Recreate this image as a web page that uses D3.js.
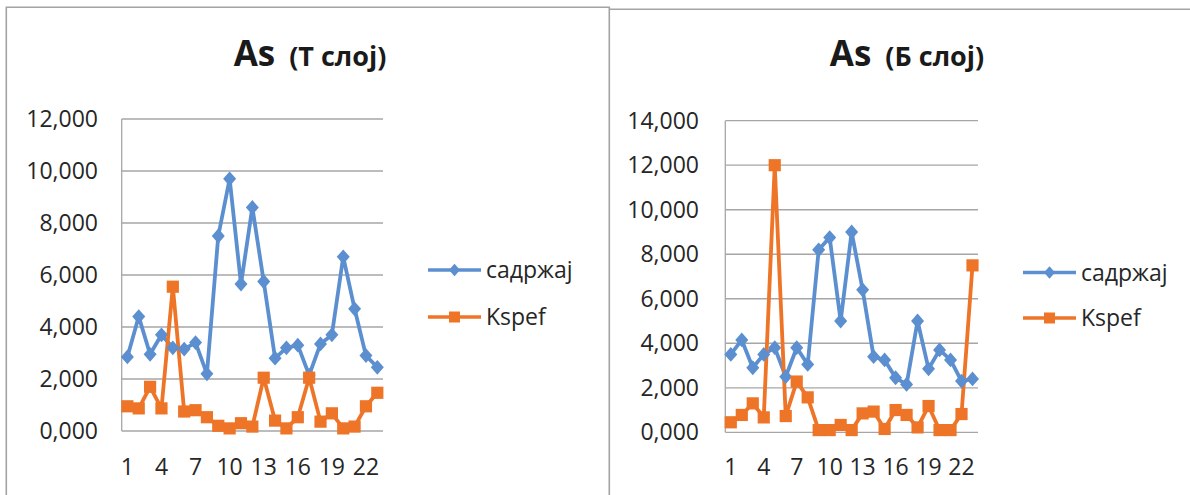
<!DOCTYPE html>
<html>
<head>
<meta charset="utf-8">
<script src="https://cdn.jsdelivr.net/npm/d3@7"></script>
<style>
  html, body { margin: 0; padding: 0; background: #fff; }
  svg { display: block; }
  text { font-family: "Open Sans", "Noto Sans", sans-serif; fill: #262626; }
</style>
</head>
<body>
<svg id="chart" width="1190" height="495"></svg>
<script>
// Sample numbers 1..23
const categories = d3.range(1, 24);
const tickCategories = [1, 4, 7, 10, 13, 16, 19, 22];
const seriesNames = ["садржај", "Kspef"];

// As, T layer
const topContent = [2.85, 4.4, 2.95, 3.7, 3.2, 3.15, 3.4, 2.2, 7.5, 9.7, 5.65, 8.6, 5.75, 2.8, 3.2, 3.3, 2.15, 3.35, 3.7, 6.7, 4.7, 2.9, 2.45];
const topKspef   = [0.95, 0.87, 1.7, 0.87, 5.55, 0.75, 0.8, 0.53, 0.2, 0.1, 0.3, 0.17, 2.05, 0.4, 0.1, 0.53, 2.05, 0.36, 0.68, 0.1, 0.17, 0.95, 1.47];
const topTicks   = [0, 2, 4, 6, 8, 10, 12];

// As, Б layer
const bottomContent = [3.5, 4.15, 2.9, 3.5, 3.8, 2.5, 3.8, 3.05, 8.2, 8.75, 5.0, 9.0, 6.4, 3.4, 3.25, 2.45, 2.15, 5.0, 2.85, 3.7, 3.25, 2.3, 2.4];
const bottomKspef   = [0.45, 0.78, 1.3, 0.67, 12.0, 0.73, 2.28, 1.57, 0.1, 0.1, 0.33, 0.1, 0.85, 0.93, 0.15, 1.0, 0.78, 0.22, 1.18, 0.1, 0.1, 0.82, 7.5];
const bottomTicks   = [0, 2, 4, 6, 8, 10, 12, 14];

const BLUE = "#5b8fd0";
const ORANGE = "#ee7527";
const GRID = "#a6a6a6";

const svg = d3.select("#chart");
// labels with comma decimal separator: 12,000
const yLabel = v => d3.format(".3f")(v).replace(".", ",");

// marker shapes centred on the point
const markerPath = {
  diamond: (w, h) => `M0,${-h}L${w},0L0,${h}L${-w},0Z`,
  square: (w) => `M${-w},${-w}H${w}V${w}H${-w}Z`
};

function drawPanel(opt) {
  const g = svg.append("g");

  // panel frame
  g.append("path")
    .attr("d", opt.frame)
    .attr("fill", "none")
    .attr("stroke", "#a3a3a3")
    .attr("stroke-width", 1.6);

  // title
  const t = g.append("text")
    .attr("x", opt.titleX)
    .attr("y", 66)
    .attr("text-anchor", "middle")
    .style("font-weight", 700)
    .style("fill", "#1a1a1a");
  t.append("tspan").style("font-size", "35px").text("As");
  t.append("tspan").attr("dx", 14).style("font-size", "27px").text(opt.subtitle);

  const x = d3.scaleBand().domain(categories).range([opt.x0, opt.x1]);
  const y = d3.scaleLinear().domain([0, d3.max(opt.ticks)]).range([opt.y0, opt.y1]);

  // gridlines
  g.append("g")
    .selectAll("line")
    .data(opt.ticks)
    .join("line")
    .attr("x1", opt.x0).attr("x2", opt.x1)
    .attr("y1", d => y(d)).attr("y2", d => y(d))
    .attr("stroke", GRID).attr("stroke-width", 1.3);

  // vertical axis line
  g.append("line")
    .attr("x1", opt.x0).attr("x2", opt.x0)
    .attr("y1", y(d3.max(opt.ticks))).attr("y2", y(0))
    .attr("stroke", GRID).attr("stroke-width", 1.3);

  // y tick labels
  g.append("g")
    .selectAll("text")
    .data(opt.ticks)
    .join("text")
    .attr("x", opt.labelRight)
    .attr("y", d => y(d))
    .attr("dy", "0.35em")
    .attr("text-anchor", "end")
    .style("font-size", "23px")
    .text(d => yLabel(d));

  // x tick labels
  g.append("g")
    .selectAll("text")
    .data(tickCategories)
    .join("text")
    .attr("x", d => x(d) + x.bandwidth() / 2)
    .attr("y", 467)
    .attr("dy", "0.35em")
    .attr("text-anchor", "middle")
    .style("font-size", "23px")
    .text(d => d);

  const cx = d => x(d) + x.bandwidth() / 2;
  const line = d3.line().x((v, i) => cx(categories[i])).y(v => y(v));

  const series = [
    { values: opt.content, color: BLUE, marker: "diamond" },
    { values: opt.kspef, color: ORANGE, marker: "square" }
  ];
  const shape = s => s.marker === "diamond" ? markerPath.diamond(6.5, 7.4) : markerPath.square(6.1);

  series.forEach(s => {
    g.append("path")
      .datum(s.values)
      .attr("d", line)
      .attr("fill", "none")
      .attr("stroke", s.color)
      .attr("stroke-width", 3.8)
      .attr("stroke-linejoin", "round");
  });
  series.forEach(s => {
    g.append("g")
      .selectAll("path")
      .data(s.values)
      .join("path")
      .attr("transform", (v, i) => `translate(${cx(categories[i])},${y(v)})`)
      .attr("d", shape(s))
      .attr("fill", s.color);
  });

  // legend
  const lg = g.append("g");
  series.forEach((s, i) => {
    const ly = opt.legendY[i];
    lg.append("line")
      .attr("x1", opt.legendX).attr("x2", opt.legendX + 53)
      .attr("y1", ly).attr("y2", ly)
      .attr("stroke", s.color).attr("stroke-width", 3.6);
    lg.append("path")
      .attr("transform", `translate(${opt.legendX + 26.5},${ly})`)
      .attr("d", s.marker === "diamond" ? markerPath.diamond(5.5, 6.2) : markerPath.square(5.5))
      .attr("fill", s.color);
    lg.append("text")
      .attr("x", opt.legendX + 58)
      .attr("y", ly)
      .attr("dy", "0.35em")
      .style("font-size", "23px")
      .text(seriesNames[i]);
  });
}

drawPanel({
  frame: "M6.3,495 L6.3,7.3 L609.3,7.3 L609.3,495",
  subtitle: "(Т слој)",
  titleX: 310,
  x0: 121.7, x1: 383,
  y0: 431, y1: 119,
  ticks: topTicks,
  labelRight: 98,
  content: topContent,
  kspef: topKspef,
  legendX: 428,
  legendY: [270, 317]
});

drawPanel({
  frame: "M609.3,9.3 L1190,9.3",
  subtitle: "(Б слој)",
  titleX: 907,
  x0: 725.3, x1: 978,
  y0: 432.3, y1: 120.7,
  ticks: bottomTicks,
  labelRight: 699,
  content: bottomContent,
  kspef: bottomKspef,
  legendX: 1023,
  legendY: [272.5, 318]
});
</script>
</body>
</html>
